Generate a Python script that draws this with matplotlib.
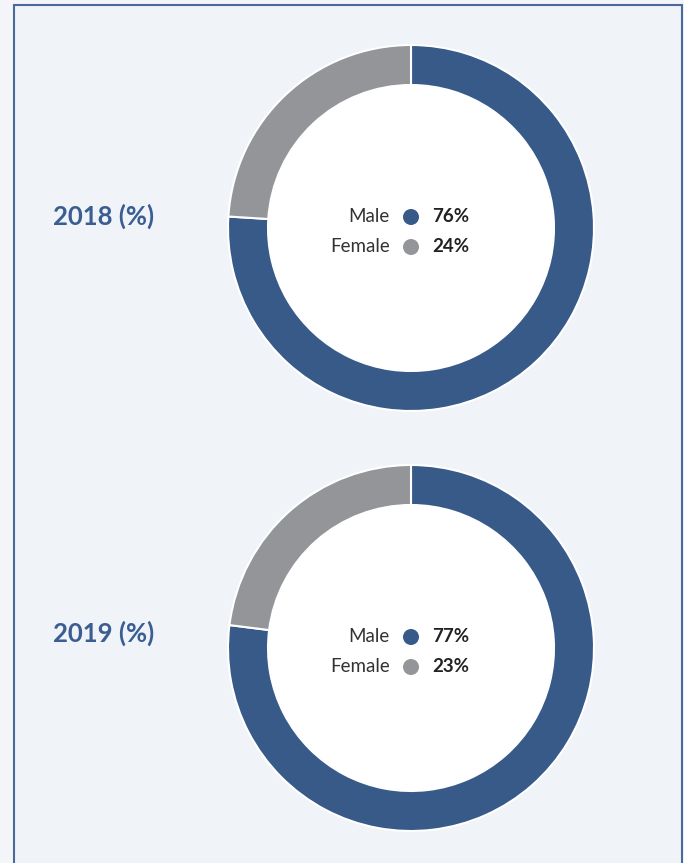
import matplotlib.pyplot as plt
from matplotlib.patches import Rectangle, Circle

# data
years = ["2018 (%)", "2019 (%)"]
labels = ["Male", "Female"]
male = [76, 77]
female = [24, 23]

colors = ["#375a89", "#939598"]
title_color = "#3b5e92"
W, H = 684, 863

fig = plt.figure(figsize=(W / 100, H / 100), dpi=100)
fig.patch.set_facecolor("#f3f5f8")
ax = fig.add_axes([0, 0, 1, 1])
ax.set_xlim(0, W)
ax.set_ylim(0, H)
ax.set_aspect("equal")
ax.axis("off")

# panel with border
ax.add_patch(Rectangle((13.5, -5), 668, H - 5.5 + 5, facecolor="#f0f3f7",
                       edgecolor="#4a6a9c", lw=1.5, zorder=0))

centers = [(411, H - 228), (411, H - 648)]
title_y = [216, 633]

for i, (cx, cy) in enumerate(centers):
    ax.pie([male[i], female[i]], colors=colors, startangle=90, counterclock=False,
           radius=183, center=(cx, cy), frame=True,
           wedgeprops=dict(width=40, edgecolor="white", linewidth=1.5))
    ax.add_patch(Circle((cx, cy), 142.5, facecolor="white", edgecolor="none", zorder=1))

    ax.text(53, H - title_y[i], years[i], color=title_color, fontsize=18.5,
            fontweight="bold", family="Lato", ha="left", va="center")

    vals = [male[i], female[i]]
    for j, lab in enumerate(labels):
        ly = cy + 11 - j * 30
        ax.text(cx - 21, ly, lab, ha="right", va="center", fontsize=13.5,
                family="Lato", color="#333333", zorder=3)
        ax.add_patch(Circle((cx, ly), 8, facecolor=colors[j], edgecolor="none", zorder=3))
        ax.text(cx + 21, ly, f"{vals[j]}%", ha="left", va="center", fontsize=13.5,
                fontweight="bold", family="Lato", color="#222222", zorder=3)

ax.set_xlim(0, W)
ax.set_ylim(0, H)
fig.savefig("out.png", dpi=100, facecolor=fig.get_facecolor())
